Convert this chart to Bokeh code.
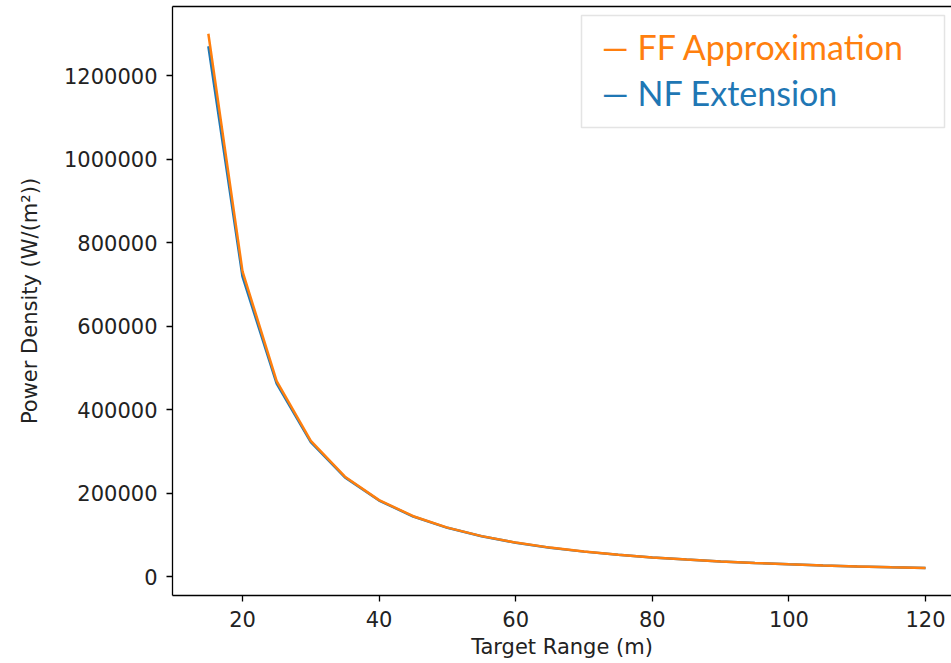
from bokeh.plotting import figure
from bokeh.models import (Range1d, LinearAxis, FixedTicker, Label, BoxAnnotation,
                          NumeralTickFormatter)
from bokeh.embed import file_html
from bokeh.resources import INLINE

# ---- data ----
target_range = [15, 20, 25, 30, 35, 40, 45, 50, 55, 60, 65, 70, 75, 80,
                85, 90, 95, 100, 105, 110, 115, 120]
ff_approx = [1300000, 731000, 468000, 325000, 239000, 183000, 144400, 117000,
             96700, 81200, 69200, 59700, 52000, 45700, 40500, 36100, 32400,
             29200, 26500, 24200, 22100, 20300]
nf_extension = [1270000, 718000, 462000, 322000, 237500, 182000, 143700, 116600,
                96400, 81000, 69100, 59600, 51900, 45600, 40450, 36070, 32380,
                29180, 26480, 24180, 22090, 20290]
x_ticks = [20, 40, 60, 80, 100, 120]
y_ticks = [0, 200000, 400000, 600000, 800000, 1000000, 1200000]
legend_labels = ["FF Approximation", "NF Extension"]
x_label = "Target Range (m)"
y_label = "Power Density (W/(m²))"

BLUE = "#1f77b4"
ORANGE = "#ff7f0e"
TXT = "#222222"

p = figure(width=951, height=663, output_backend="svg", toolbar_location=None,
           x_range=Range1d(9.75, 123.8), y_range=Range1d(-45500, 1365300),
           min_border_left=172, min_border_right=0, min_border_top=6,
           min_border_bottom=68)
p.outline_line_color = None
p.grid.grid_line_color = None
p.background_fill_color = "white"
p.border_fill_color = "white"

bottom_axis = p.below[0]
left_axis = p.left[0]

for ax in (bottom_axis, left_axis):
    ax.axis_line_color = "black"
    ax.axis_line_width = 1.3
    ax.major_tick_line_color = "black"
    ax.major_tick_line_width = 1.3
    ax.major_tick_out = 6
    ax.major_tick_in = 0
    ax.minor_tick_out = 0
    ax.minor_tick_in = 0
    ax.major_label_text_font = "DejaVu Sans"
    ax.major_label_text_font_size = "21px"
    ax.major_label_text_color = TXT
    ax.axis_label_text_font = "DejaVu Sans"
    ax.axis_label_text_font_size = "21px"
    ax.axis_label_text_font_style = "normal"
    ax.axis_label_text_color = TXT

bottom_axis.ticker = FixedTicker(ticks=x_ticks)
left_axis.ticker = FixedTicker(ticks=y_ticks)
left_axis.formatter = NumeralTickFormatter(format="0")
bottom_axis.major_label_standoff = 9
left_axis.major_label_standoff = 9
bottom_axis.axis_label = x_label
bottom_axis.axis_label_standoff = 5
left_axis.axis_label = y_label
left_axis.axis_label_standoff = 19

# top spine only (no ticks, no labels)
top_axis = LinearAxis(ticker=FixedTicker(ticks=[]), major_label_text_font_size="0px",
                      major_tick_out=0, major_tick_in=0, minor_tick_out=0,
                      minor_tick_in=0, major_label_standoff=0,
                      axis_line_color="black", axis_line_width=1.3)
p.add_layout(top_axis, "above")

p.line(target_range, nf_extension, line_color=BLUE, line_width=2.5)
p.line(target_range, ff_approx, line_color=ORANGE, line_width=2.5)

# legend box
p.add_layout(BoxAnnotation(left=69.63, right=122.78, top=1343700, bottom=1075500,
                           fill_color="white", fill_alpha=1.0,
                           line_color="#a6a6a6", line_width=1.5))
for text, col, yy in zip(legend_labels, [ORANGE, BLUE], [1268300, 1160500]):
    p.add_layout(Label(x=72.6, y=yy, text="\u2014 " + text, text_font="Lato",
                       text_font_size="34px", text_color=col,
                       text_baseline="middle", text_align="left"))

open("out.html", "w").write(file_html(p, INLINE))
